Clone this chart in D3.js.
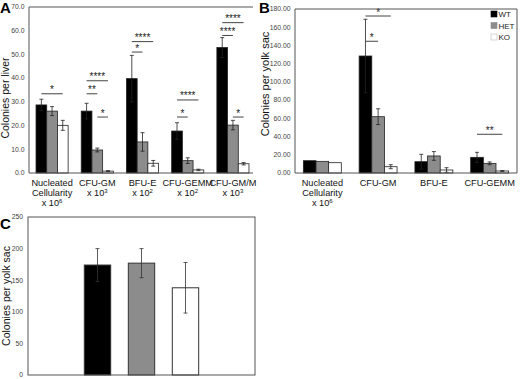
<!DOCTYPE html>
<html><head><meta charset="utf-8">
<script src="https://cdn.jsdelivr.net/npm/d3@7"></script>
<style>
html,body{margin:0;padding:0;background:#fff;}
svg{display:block;font-family:"Liberation Sans",Arial,sans-serif;}
</style></head>
<body>
<svg id="chart" width="520" height="379"></svg>
<script>
// ---------- DATA ----------
const seriesNames = ["WT", "HET", "KO"];

// Panel A: colonies per liver
const catsA = [["Nucleated","Cellularity"],["CFU-GM"],["BFU-E"],["CFU-GEMM"],["CFU-GM/M"]];
const expA = ["6","3","2","2","3"];
const wtA = [28.7, 26.1, 39.8, 17.7, 52.9];
const wtErrA = [2.4, 3.3, 9.8, 3.5, 4.2];
const hetA = [26.1, 9.7, 13.1, 5.2, 20.2];
const hetErrA = [1.9, 0.8, 3.9, 1.2, 2.0];
const koA = [20.1, 0.8, 4.1, 1.3, 3.9];
const koErrA = [2.1, 0.2, 1.2, 0.3, 0.5];
const ticksA = [0,10,20,30,40,50,60,70];
const sigA = [
  {g:0,a:0,b:2,v:33.4,t:"*"},
  {g:1,a:0,b:2,v:38.9,t:"****"},
  {g:1,a:0,b:1,v:33.4,t:"**"},
  {g:1,a:1,b:2,v:23.6,t:"*"},
  {g:2,a:0,b:2,v:55.4,t:"****"},
  {g:2,a:0,b:1,v:51.0,t:"*"},
  {g:3,a:0,b:2,v:30.8,t:"****"},
  {g:3,a:0,b:1,v:23.6,t:"*"},
  {g:4,a:0,b:2,v:63.4,t:"****"},
  {g:4,a:0,b:1,v:58.0,t:"****"},
  {g:4,a:1,b:2,v:23.6,t:"*"}
];

// Panel B: colonies per yolk sac
const catsB = [["Nucleated","Cellularity"],["CFU-GM"],["BFU-E"],["CFU-GEMM"]];
const expB = ["6",null,null,null];
const wtB = [13.5, 128.4, 12.4, 17.2];
const wtErrB = [0, 40.3, 8.1, 5.5];
const hetB = [12.8, 61.8, 18.7, 10.6];
const hetErrB = [0, 8.7, 4.8, 1.5];
const koB = [11.3, 6.9, 3.3, 2.2];
const koErrB = [0, 2.2, 2.5, 0.5];
const ticksB = [0,20,40,60,80,100,120,140,160,180];
const sigB = [
  {g:1,a:0,b:2,v:172.3,t:"*"},
  {g:1,a:0,b:1,v:144.6,t:"*"},
  {g:3,a:0,b:2,v:42.5,t:"**"}
];

// Panel C: colonies per yolk sac
const valuesC = [174, 177, 138];
const errC = [26, 23, 40];
const ticksC = [0,50,100,150,200,250];

// ---------- DRAW ----------
const svg = d3.select("#chart");
const colors = {WT:"#000000", HET:"#8c8c8c", KO:"#ffffff"};
const axisColor = "#555";

function groupedPanel(o){
  const g = svg.append("g");
  const x0 = d3.scaleBand().domain(d3.range(o.cats.length)).range(o.xr).paddingInner(o.pi).paddingOuter(o.po);
  const x1 = d3.scaleBand().domain(seriesNames).range([0, x0.bandwidth()]);
  const y = d3.scaleLinear().domain([0, o.max]).range(o.yr);
  const left = o.box[0], right = o.box[1];
  g.selectAll(".tl").data(o.ticks).join("text")
    .attr("x", left - 4.5).attr("y", d => y(d) + 2.3)
    .attr("text-anchor","end").attr("font-size", 6.8).attr("fill","#444")
    .text(d => d3.format(o.fmt)(d));
  const rows = o.cats.map((c,i) => seriesNames.map((s,j) => ({g:i, s, v:o.vals[j][i], e:o.errs[j][i]})));
  const flat = rows.flat();
  g.selectAll(".bar").data(flat).join("rect")
    .attr("x", d => x0(d.g) + x1(d.s)).attr("width", x1.bandwidth())
    .attr("y", d => y(d.v)).attr("height", d => y(0) - y(d.v))
    .attr("fill", d => colors[d.s]).attr("stroke","#222").attr("stroke-width",0.8);
  const eb = flat.filter(d => d.e > 0);
  const cx = d => x0(d.g) + x1(d.s) + x1.bandwidth()/2;
  g.selectAll(".ev").data(eb).join("line")
    .attr("x1", cx).attr("x2", cx).attr("y1", d => y(d.v + d.e)).attr("y2", d => y(Math.max(0, d.v - d.e)))
    .attr("stroke","#222").attr("stroke-width",0.8);
  ["t","b"].forEach(k => {
    g.selectAll(".ec"+k).data(eb).join("line")
      .attr("x1", d => cx(d) - 2).attr("x2", d => cx(d) + 2)
      .attr("y1", d => y(k==="t" ? d.v + d.e : Math.max(0, d.v - d.e)))
      .attr("y2", d => y(k==="t" ? d.v + d.e : Math.max(0, d.v - d.e)))
      .attr("stroke","#222").attr("stroke-width",0.8);
  });
  const sc = (gi, si) => x0(gi) + x1(seriesNames[si]) + x1.bandwidth()/2;
  g.selectAll(".sl").data(o.sig).join("line")
    .attr("x1", d => sc(d.g, d.a)).attr("x2", d => sc(d.g, d.b))
    .attr("y1", d => y(d.v)).attr("y2", d => y(d.v))
    .attr("stroke","#444").attr("stroke-width",1);
  g.selectAll(".st").data(o.sig).join("text")
    .attr("x", d => (sc(d.g, d.a) + sc(d.g, d.b))/2).attr("y", d => y(d.v) - 0.5)
    .attr("text-anchor","middle").attr("font-size",10).attr("fill","#222")
    .text(d => d.t);
  const path = o.rightBorder
    ? `M${left},${y(o.max)}H${right}V${y(0)}H${left}Z`
    : `M${right},${y(o.max)}H${left}V${y(0)}H${right}`;
  g.append("path").attr("d", path).attr("fill","none").attr("stroke",axisColor).attr("stroke-width",1);
  o.cats.forEach((lines, i) => {
    const xc = x0(i) + x0.bandwidth()/2;
    lines.forEach((ln, k) => {
      g.append("text").attr("x", xc).attr("y", y(0) + 13 + k*10)
        .attr("text-anchor","middle").attr("font-size",9.2).attr("fill","#111").text(ln);
    });
    if (o.exps[i]) {
      const t = g.append("text").attr("x", xc).attr("y", y(0) + 13 + lines.length*10)
        .attr("text-anchor","middle").attr("font-size",9.2).attr("fill","#111");
      t.append("tspan").text("x 10");
      t.append("tspan").attr("font-size",6).attr("dy",-3.5).text(o.exps[i]);
    }
  });
  g.append("text").attr("transform", `translate(${o.ylx},${o.yly}) rotate(-90)`)
    .attr("text-anchor","middle").attr("font-size",o.ylfs).attr("fill","#111").text(o.ylabel);
  return g;
}

groupedPanel({
  cats: catsA, exps: expA, vals:[wtA,hetA,koA], errs:[wtErrA,hetErrA,koErrA],
  xr:[31.5,253.5], pi:0.29, po:0.1, box:[29,253], yr:[173,7], max:70, ticks:ticksA, fmt:".1f",
  sig: sigA, rightBorder:false, ylabel:"Colonies per liver", ylx:9, yly:98, ylfs:10.5
});
groupedPanel({
  cats: catsB, exps: expB, vals:[wtB,hetB,koB], errs:[wtErrB,hetErrB,koErrB],
  xr:[295,517], pi:0.32, po:0.15, box:[295,517], yr:[173,9], max:180, ticks:ticksB, fmt:".2f",
  sig: sigB, rightBorder:true, ylabel:"Colonies per yolk sac", ylx:269, yly:84, ylfs:11
});

const leg = svg.append("g");
seriesNames.forEach((s, i) => {
  leg.append("rect").attr("x", 491).attr("y", 11 + i*11.5).attr("width",6).attr("height",6)
    .attr("fill", colors[s]).attr("stroke", s==="KO" ? "#bbb" : colors[s]).attr("stroke-width",0.6);
  leg.append("text").attr("x", 498.5).attr("y", 17 + i*11.5).attr("font-size",8).attr("fill","#222").text(s);
});

(function(){
  const g = svg.append("g");
  const left = 28, right = 255, top = 217, bottom = 375;
  const x = d3.scaleBand().domain(seriesNames).range([left, right]).paddingInner(0.4).paddingOuter(1.28);
  const y = d3.scaleLinear().domain([0,250]).range([bottom, top]);
  g.selectAll(".tl").data(ticksC).join("text")
    .attr("x", left - 5).attr("y", d => y(d) + 2.3).attr("text-anchor","end")
    .attr("font-size",6.8).attr("fill","#444").text(d => d);
  const data = seriesNames.map((s,i) => ({s, v:valuesC[i], e:errC[i]}));
  g.selectAll(".bar").data(data).join("rect")
    .attr("x", d => x(d.s)).attr("width", x.bandwidth())
    .attr("y", d => y(d.v)).attr("height", d => y(0) - y(d.v))
    .attr("fill", d => colors[d.s]).attr("stroke","#333").attr("stroke-width",1);
  const cx = d => x(d.s) + x.bandwidth()/2;
  g.selectAll(".ev").data(data).join("line")
    .attr("x1", cx).attr("x2", cx).attr("y1", d => y(d.v + d.e)).attr("y2", d => y(d.v - d.e))
    .attr("stroke","#333").attr("stroke-width",0.8);
  [1,-1].forEach(sg => {
    g.selectAll(".ec"+(sg>0?"p":"m")).data(data).join("line")
      .attr("x1", d => cx(d) - 2).attr("x2", d => cx(d) + 2)
      .attr("y1", d => y(d.v + sg*d.e)).attr("y2", d => y(d.v + sg*d.e))
      .attr("stroke","#333").attr("stroke-width",0.8);
  });
  g.append("rect").attr("x", left).attr("y", top).attr("width", right-left).attr("height", bottom-top)
    .attr("fill","none").attr("stroke", axisColor).attr("stroke-width",1);
  g.append("text").attr("transform", `translate(10,${(top+bottom)/2}) rotate(-90)`)
    .attr("text-anchor","middle").attr("font-size",10.5).attr("fill","#111").text("Colonies per yolk sac");
})();

[["A",0,13],["B",259,13],["C",0,229]].forEach(([t,x,yy]) => {
  svg.append("text").attr("x",x).attr("y",yy).attr("font-size",15).attr("font-weight","bold")
    .attr("fill","#000").text(t);
});
</script>
</body></html>
